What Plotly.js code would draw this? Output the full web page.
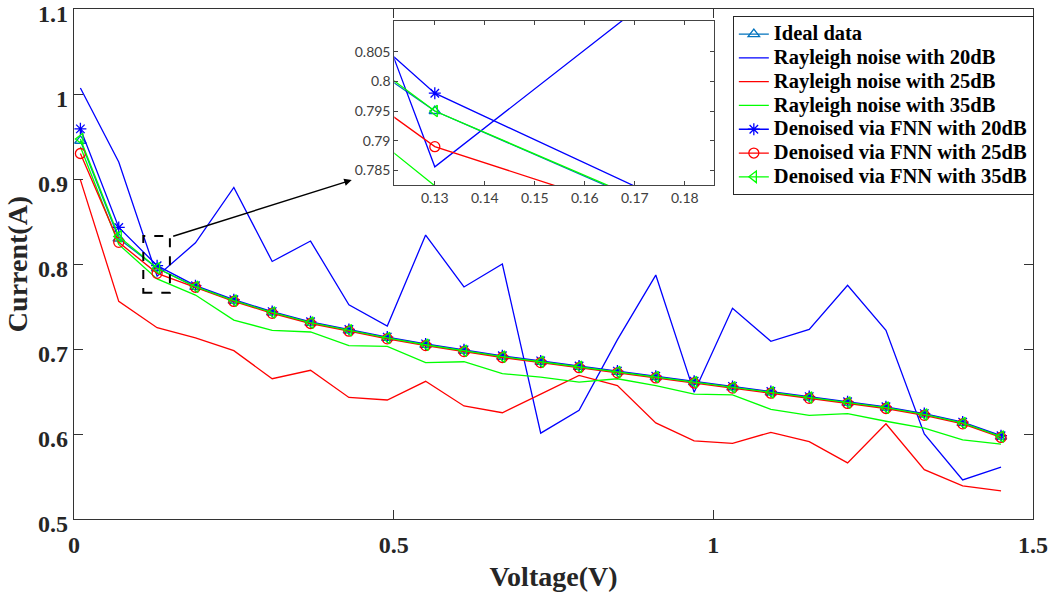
<!DOCTYPE html>
<html>
<head>
<meta charset="utf-8">
<script src="https://cdn.plot.ly/plotly-3.0.1.min.js"></script>
<style>html,body{margin:0;padding:0;background:#fff;}#chart{width:1055px;height:596px;}</style>
</head>
<body>
<div id="chart"></div>
<script>
// ---- data ----
const voltage = [0.01,0.07,0.13,0.19,0.25,0.31,0.37,0.43,0.49,0.55,0.61,0.67,0.73,0.79,0.85,0.91,0.97,1.03,1.09,1.15,1.21,1.27,1.33,1.39,1.45];
const idealData = [0.945,0.830,0.795,0.773,0.757,0.743,0.731,0.722,0.713,0.705,0.698,0.691,0.685,0.679,0.673,0.667,0.661,0.655,0.649,0.643,0.637,0.631,0.623,0.613,0.597];
const noisy20 = [1.007,0.920,0.7856,0.825,0.890,0.803,0.827,0.752,0.727,0.834,0.773,0.800,0.601,0.628,0.711,0.787,0.649,0.748,0.709,0.723,0.775,0.722,0.600,0.546,0.561];
const noisy25 = [0.899,0.756,0.725,0.713,0.698,0.665,0.675,0.643,0.640,0.662,0.633,0.625,0.647,0.669,0.657,0.613,0.592,0.589,0.602,0.591,0.566,0.612,0.558,0.539,0.533];
const noisy35 = [0.938,0.823,0.7824,0.7635,0.734,0.722,0.720,0.704,0.703,0.684,0.685,0.671,0.667,0.661,0.665,0.657,0.647,0.646,0.629,0.622,0.624,0.615,0.607,0.593,0.588];
const denoised20 = [0.959,0.843,0.798,0.7745,0.758,0.744,0.732,0.723,0.714,0.706,0.699,0.692,0.686,0.680,0.674,0.668,0.662,0.656,0.650,0.644,0.638,0.632,0.624,0.614,0.598];
const denoised25 = [0.930,0.8255,0.789,0.7726,0.756,0.742,0.730,0.721,0.712,0.704,0.697,0.690,0.684,0.678,0.672,0.666,0.660,0.654,0.648,0.642,0.636,0.630,0.622,0.612,0.596];
const denoised35 = [0.947,0.8325,0.795,0.7733,0.757,0.743,0.731,0.722,0.713,0.705,0.698,0.691,0.685,0.679,0.673,0.667,0.661,0.655,0.649,0.643,0.637,0.631,0.623,0.613,0.597];
const seriesNames = ["Ideal data","Rayleigh noise with 20dB","Rayleigh noise with 25dB","Rayleigh noise with 35dB","Denoised via FNN with 20dB","Denoised via FNN with 25dB","Denoised via FNN with 35dB"];
const xTickVals = [0,0.5,1,1.5];
const yTickVals = [0.5,0.6,0.7,0.8,0.9,1.0,1.1];
const insetXTicks = [0.13,0.14,0.15,0.16,0.17,0.18];
const insetYTicks = [0.785,0.79,0.795,0.8,0.805];

// ---- styles ----
const styles = [
  {color:'#0072BD', mode:'lines+markers', symbol:'triangle-up-open'},
  {color:'#0000FF', mode:'lines'},
  {color:'#FF0000', mode:'lines'},
  {color:'#00FF00', mode:'lines'},
  {color:'#0000FF', mode:'lines+markers', symbol:'asterisk-open'},
  {color:'#FF0000', mode:'lines+markers', symbol:'circle-open'},
  {color:'#00FF00', mode:'lines+markers', symbol:'triangle-left-open'}
];
const allY = [idealData, noisy20, noisy25, noisy35, denoised20, denoised25, denoised35];

const traces = [];
[['x','y',true],['x2','y2',false]].forEach(([xa,ya,leg])=>{
  allY.forEach((ys,i)=>{
    const s = styles[i];
    const t = {
      x: voltage, y: ys, type:'scatter', mode: s.mode,
      name: '<span style="font-size:20.5px">' + seriesNames[i] + '</span>',
      xaxis: xa, yaxis: ya, showlegend: leg, cliponaxis: true,
      line: {color: s.color, width: 1.3}
    };
    if (s.symbol) t.marker = {symbol: s.symbol, size: 10, color: s.color, line:{color:s.color, width:1.3}};
    traces.push(t);
  });
});

const serif = 'Liberation Serif, Times New Roman, serif';
const axisCol = '#333333';
const layout = {
  width:1055, height:596,
  margin:{l:74, r:22, t:9, b:77, pad:0},
  paper_bgcolor:'#ffffff', plot_bgcolor:'#ffffff',
  showlegend:true,
  legend:{
    x:0.687, y:0.986, xanchor:'left', yanchor:'top',
    bgcolor:'#ffffff', bordercolor:'#262626', borderwidth:1,
    font:{family:serif, size:16, color:'#000000', weight:'bold'},
    itemwidth:30, tracegroupgap:0
  },
  xaxis:{
    domain:[0,1], range:[0,1.5], tickmode:'array', tickvals:xTickVals,
    ticks:'inside', ticklen:9, tickcolor:axisCol, tickwidth:1,
    showline:true, linecolor:axisCol, linewidth:1.3, mirror:'ticks',
    showgrid:false, zeroline:false, ticklabeloverflow:'allow', ticklabelstandoff:4,
    tickfont:{family:serif, size:24, color:'#262626', weight:'bold'},
    title:{text:'Voltage(V)', font:{family:serif, size:28, color:'#262626', weight:'bold'}, standoff:9},
    automargin:false
  },
  yaxis:{
    domain:[0,1], range:[0.5,1.1], tickmode:'array', tickvals:yTickVals,
    ticks:'inside', ticklen:9, tickcolor:axisCol, tickwidth:1,
    showline:true, linecolor:axisCol, linewidth:1.3, mirror:'ticks',
    showgrid:false, zeroline:false, ticklabeloverflow:'allow', ticklabelshift:5,
    tickfont:{family:serif, size:24, color:'#262626', weight:'bold'},
    title:{text:'Current(A)', font:{family:serif, size:28, color:'#262626', weight:'bold'}, standoff:2},
    automargin:false
  },
  xaxis2:{
    domain:[0.334,0.6677], anchor:'y2', range:[0.1219,0.1859], tickmode:'array', tickvals:insetXTicks,
    ticks:'inside', ticklen:4, tickcolor:'#444444', showline:true, linecolor:'#444444', linewidth:1, mirror:'ticks',
    showgrid:false, zeroline:false,
    tickfont:{family:'Lato, Open Sans, sans-serif', size:14, color:'#404040'}
  },
  yaxis2:{
    domain:[0.6549,0.977], anchor:'x2', range:[0.78254,0.8102], tickmode:'array', tickvals:insetYTicks,
    ticks:'inside', ticklen:4, tickcolor:'#444444', showline:true, linecolor:'#444444', linewidth:1, mirror:'ticks',
    showgrid:false, zeroline:false,
    tickfont:{family:'Lato, Open Sans, sans-serif', size:14, color:'#404040'}
  },
  shapes:[
    {type:'rect', xref:'x', yref:'y', x0:0.1084, x1:0.150, y0:0.7662, y1:0.833,
     line:{color:'#000000', width:2, dash:'dash'}, fillcolor:'rgba(0,0,0,0)'}
  ],
  annotations:[
    {xref:'x', yref:'y', axref:'x', ayref:'y', x:0.4344, y:0.8988, ax:0.1528, ay:0.8321,
     text:'', showarrow:true, arrowhead:2, arrowsize:1, arrowwidth:1.5, arrowcolor:'#000000'}
  ]
};

Plotly.newPlot('chart', traces, layout, {displayModeBar:false, staticPlot:true});
</script>
</body>
</html>
